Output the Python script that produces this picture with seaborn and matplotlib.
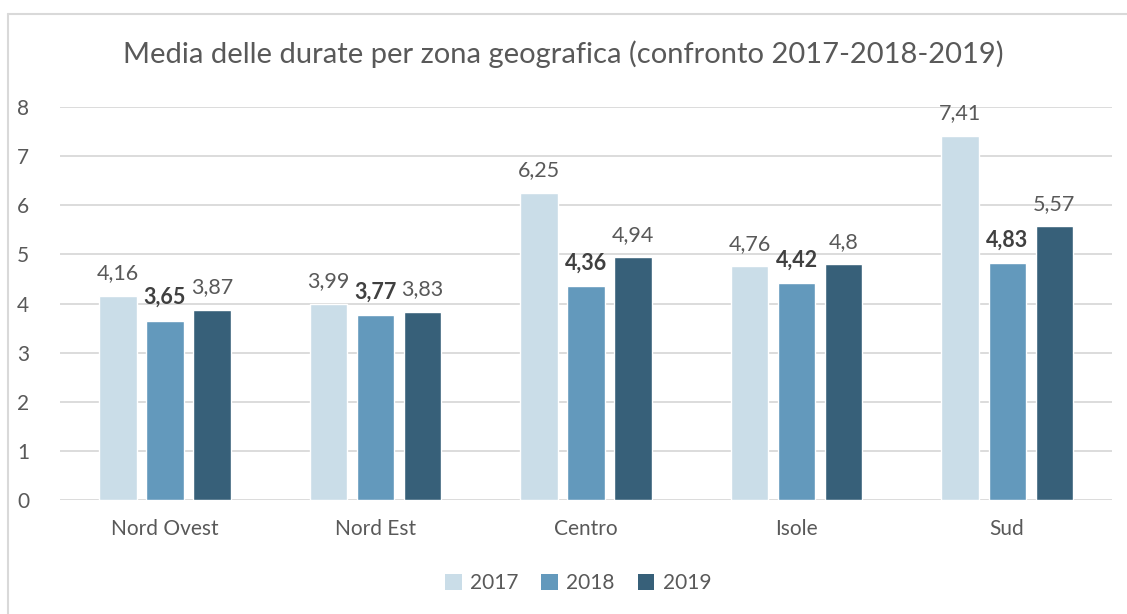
import numpy as np
import pandas as pd
import matplotlib.pyplot as plt
import seaborn as sns
from matplotlib.lines import Line2D
from matplotlib.patches import Patch

# data
zone = ["Nord Ovest", "Nord Est", "Centro", "Isole", "Sud"]
anni = ["2017", "2018", "2019"]
v2017 = [4.16, 3.99, 6.25, 4.76, 7.41]
v2018 = [3.65, 3.77, 4.36, 4.42, 4.83]
v2019 = [3.87, 3.83, 4.94, 4.80, 5.57]
colori = ["#CADDE8", "#6399BC", "#376079"]

df = pd.DataFrame({"zona": zone * 3,
                   "anno": [a for a in anni for _ in zone],
                   "valore": v2017 + v2018 + v2019})

sns.set_theme(style="white")
plt.rcParams['font.family'] = ['Lato', 'DejaVu Sans']
testo = "#595959"

fig = plt.figure(figsize=(11.27, 6.14), dpi=100)
ax = fig.add_axes([0.053, 0.1857, 0.934, 0.64])

sns.barplot(data=df, x="zona", y="valore", hue="anno", palette=colori,
            width=0.67, gap=0.21, ax=ax, legend=False, saturation=1)

ax.set_ylim(0, 8)
ax.set_yticks(range(0, 9))
ax.yaxis.grid(True, color="#D9D9D9", linewidth=1.3)
ax.set_axisbelow(True)
for s in ax.spines.values():
    s.set_visible(False)
ax.set_xlabel("")
ax.set_ylabel("")
ax.tick_params(axis="both", length=0, labelsize=15, colors=testo)
ax.tick_params(axis="y", pad=22)
ax.tick_params(axis="x", pad=14)

# value labels, 2018 in bold
for i, cont in enumerate(ax.containers):
    etich = [f"{v:g}".replace(".", ",") for v in cont.datavalues]
    ax.bar_label(cont, labels=etich, padding=9, fontsize=15.5,
                 color="#404040" if i == 1 else testo,
                 fontweight="bold" if i == 1 else "normal")

fig.suptitle("Media delle durate per zona geografica (confronto 2017-2018-2019)",
             y=0.935, fontsize=21, color=testo)

handles = [Patch(facecolor=c, edgecolor="none") for c in colori]
fig.legend(handles, anni, loc="center", bbox_to_anchor=(0.513, 0.050), ncol=3,
           frameon=False, fontsize=15, handlelength=0.8, handleheight=0.8,
           handletextpad=0.4, columnspacing=1.1, labelcolor=testo)

# light frame around the chart
fig.add_artist(Line2D([0.0067, 1.0], [0.977, 0.977], color="#D9D9D9", lw=1.5))
fig.add_artist(Line2D([0.0067, 0.0067], [0.0, 0.977], color="#D9D9D9", lw=1.5))

fig.savefig("out.png", dpi=100)
